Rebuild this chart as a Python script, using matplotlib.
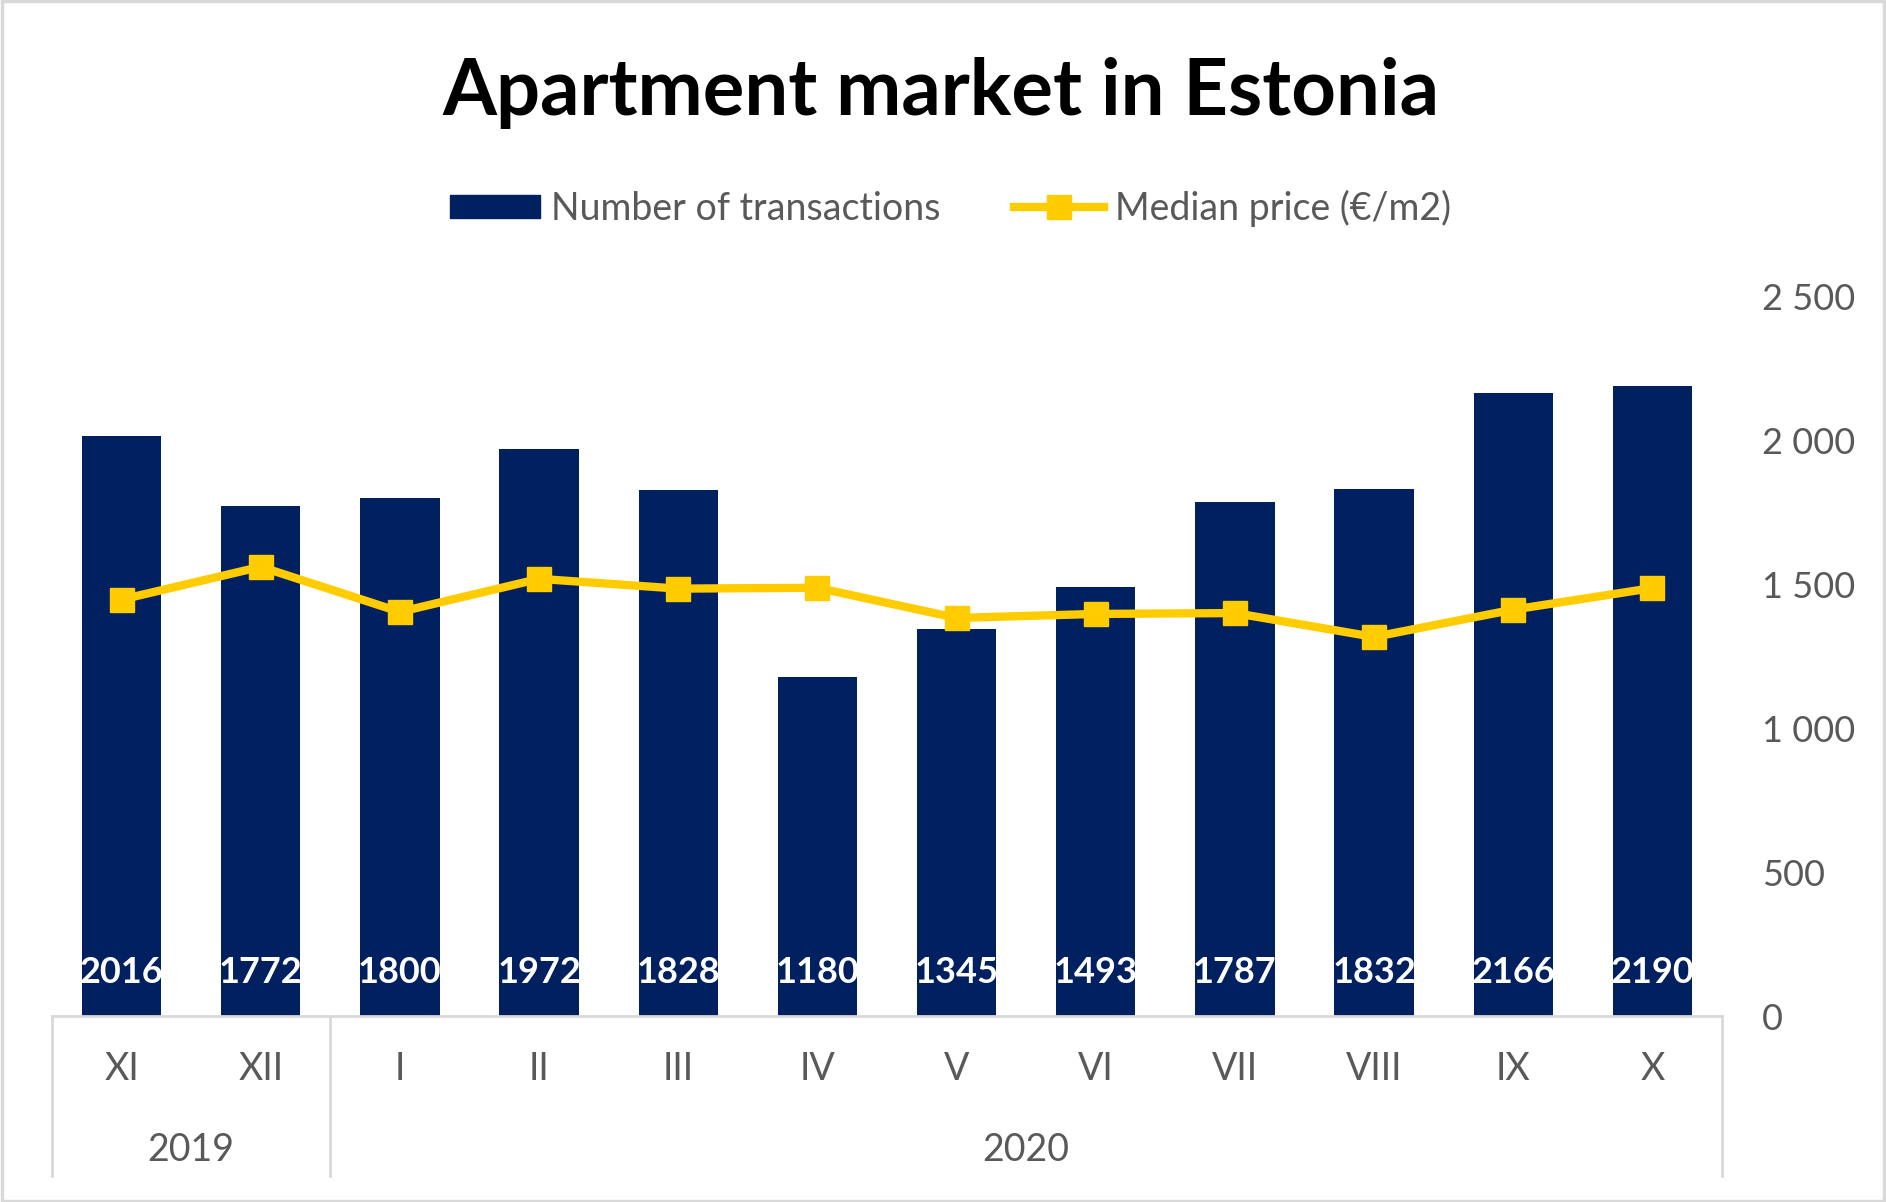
"""
Apartment market in Estonia: monthly transactions (bars) and median price (line).
"""

import matplotlib
matplotlib.use('Agg')
import matplotlib.pyplot as plt
import matplotlib.transforms as mtransforms
from matplotlib.patches import Rectangle
from matplotlib.lines import Line2D

plt.rcParams['font.family'] = ['Lato', 'DejaVu Sans']

# Data
months = ['XI', 'XII', 'I', 'II', 'III', 'IV', 'V', 'VI', 'VII', 'VIII', 'IX', 'X']
transactions = [2016, 1772, 1800, 1972, 1828, 1180, 1345, 1493, 1787, 1832, 2166, 2190]
median_price = [1448, 1562, 1405, 1520, 1486, 1489, 1384, 1398, 1401, 1318, 1413, 1488]
years = ['2019', '2020']
year_groups = [(0, 1), (2, 11)]   # first and last month index of each year
y_ticks = [0, 500, 1000, 1500, 2000, 2500]

NAVY = '#002060'
GOLD = '#FFCC00'
GREY_TEXT = '#595959'
GREY_LINE = '#D9D9D9'

W, H = 1886, 1202
fig = plt.figure(figsize=(W / 100, H / 100), dpi=100)

# plot area, placed in pixels of the reference
left, right = 52, 1722
top, bottom = 297, 1016
ax = fig.add_axes([left / W, 1 - bottom / H, (right - left) / W, (bottom - top) / H])

x = list(range(len(months)))
ax.bar(x, transactions, width=0.57, color=NAVY, zorder=2)
ax.plot(x, median_price, color=GOLD, lw=6, marker='s', markersize=17,
        zorder=3, solid_joinstyle='round')

# value labels at the foot of each bar
for xi, v in zip(x, transactions):
    ax.text(xi, 150, str(v), ha='center', va='center', color='white',
            fontsize=26, fontweight='bold', zorder=4)

ax.set_xlim(-0.5, len(months) - 0.5)
ax.set_ylim(0, 2500)
ax.set_xticks([])
ax.yaxis.tick_right()
ax.set_yticks(y_ticks)
ax.set_yticklabels([f'{t:,}'.replace(',', ' ') for t in y_ticks])
ax.tick_params(axis='y', length=0, pad=29, labelsize=26, labelcolor=GREY_TEXT)
for lbl in ax.get_yticklabels():
    lbl.set_horizontalalignment('left')

for side in ['top', 'left', 'right']:
    ax.spines[side].set_visible(False)
ax.spines['bottom'].set_color(GREY_LINE)
ax.spines['bottom'].set_linewidth(2)

# multi-level category axis
trans = mtransforms.blended_transform_factory(ax.transData, fig.transFigure)
y_axis = 1 - bottom / H
y_floor = 1 - 1176 / H
for xi, m in zip(x, months):
    ax.text(xi, 1 - 1069 / H, m, transform=trans, ha='center', va='center',
            fontsize=27, color=GREY_TEXT)
for yr, (a, b) in zip(years, year_groups):
    ax.text((a + b) / 2, 1 - 1150 / H, yr, transform=trans, ha='center', va='center',
            fontsize=27, color=GREY_TEXT)
for xs in [-0.5, 1.5, len(months) - 0.5]:
    ax.add_line(Line2D([xs, xs], [y_axis, y_floor], transform=trans,
                       color=GREY_LINE, lw=2, clip_on=False))

# title and legend
fig.text(0.499, 1 - 93 / H, 'Apartment market in Estonia', ha='center', va='center',
         fontsize=56, fontweight='bold', color='black')
handles = [
    Rectangle((0, 0), 1, 1, color=NAVY),
    Line2D([], [], color=GOLD, lw=6, marker='s', markersize=17),
]
fig.legend(handles, ['Number of transactions', 'Median price (€/m2)'],
           loc='center', bbox_to_anchor=(0.504, 1 - 208 / H), ncol=2, frameon=False,
           fontsize=27, labelcolor=GREY_TEXT, handlelength=2.4, handleheight=0.55,
           handletextpad=0.3, columnspacing=1.95)

# chart border
fig.patches.append(Rectangle((0.001, 0.001), 0.998, 0.998, transform=fig.transFigure,
                             fill=False, edgecolor=GREY_LINE, lw=2.5))

fig.savefig('out.png', dpi=100)
